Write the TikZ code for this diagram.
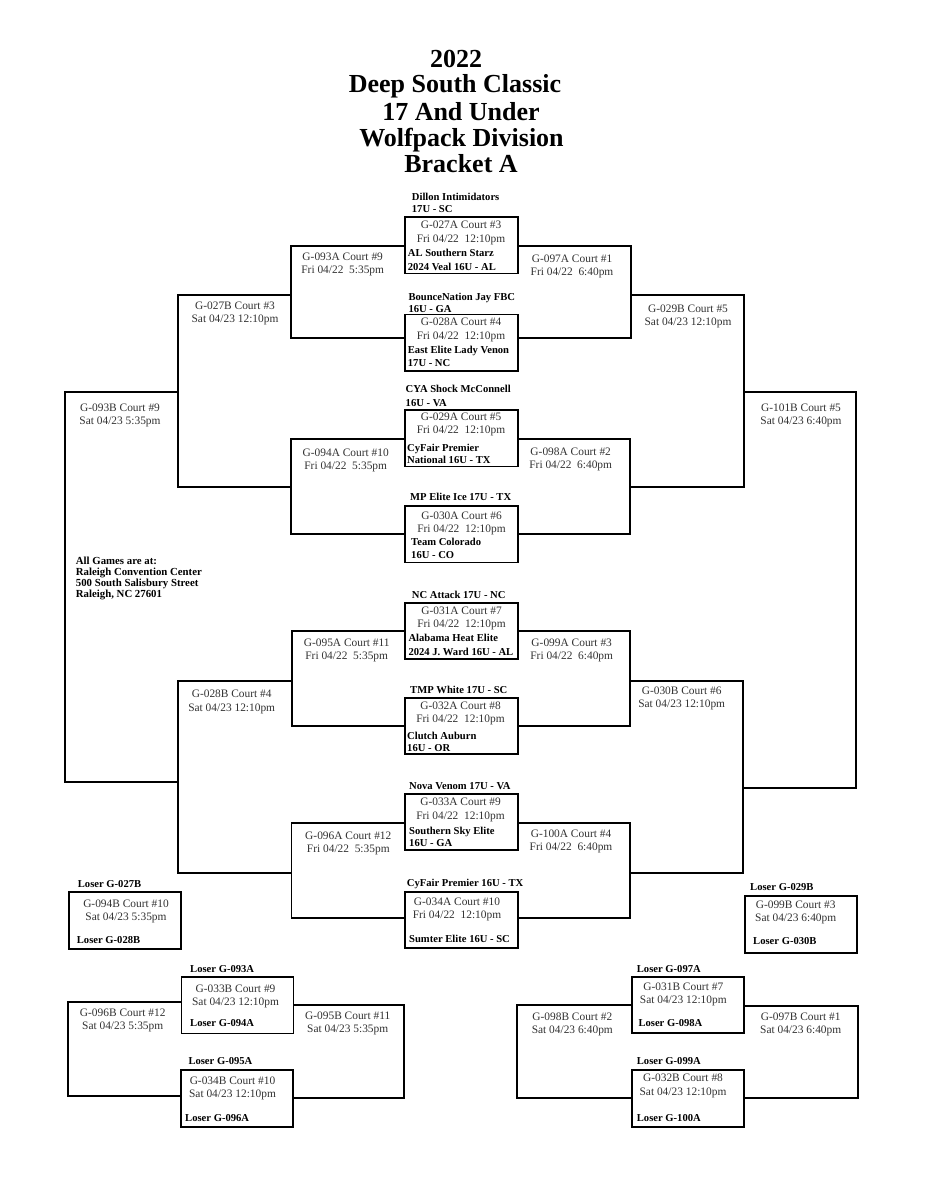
\documentclass[tikz,border=0pt]{standalone}
\usepackage{fontspec}
\setmainfont{Liberation Serif}
\definecolor{txtg}{RGB}{50,50,50}
\tikzset{
  bl/.style={line width=1.8pt, line join=miter},
  gbox/.style={draw, line width=1.8pt, anchor=north west, inner sep=0pt, minimum width=113pt, minimum height=56.5pt},
  reg/.style={font=\fontsize{11.4}{13}\selectfont, text=txtg, inner sep=0pt, anchor=mid},
  tm/.style={font=\fontsize{10.6}{12}\selectfont\bfseries, inner sep=0pt, anchor=mid west},
  adr/.style={font=\fontsize{10.8}{11}\selectfont\bfseries, inner sep=0pt, anchor=mid west},
  ttl/.style={font=\fontsize{26}{27}\selectfont\bfseries, inner sep=0pt, anchor=mid},
}
\newcommand\twolab[5]{%
  \node[reg] (#1a) at (#2,#3) {#4};
  \node[reg] (#1b) at (#2,#3+13.4) {#5};}
\begin{document}
\begin{tikzpicture}[x=1pt,y=-1pt]
\fill[white] (0,0) rectangle (948,1200);
\path[use as bounding box] (0,0) rectangle (948,1200);

% ---------- title ----------
\node[ttl] (t1) at (456,65) {2022};
\node[ttl] (t2) at (455,90.5) {Deep South Classic};
\node[ttl] (t3) at (461,118) {17 And Under};
\node[ttl] (t4) at (461.5,144.5) {Wolfpack Division};
\node[ttl] (t5) at (461,170) {Bracket A};

% ---------- round 1 boxes ----------
\node[gbox] (g027a) at (404,216) {};
\node[gbox] (g028a) at (404,313.5) {};
\node[gbox] (g029a) at (404,409) {};
\node[gbox] (g030a) at (404,505) {};
\node[gbox] (g031a) at (404,601.7) {};
\node[gbox] (g032a) at (404,696.7) {};
\node[gbox] (g033a) at (404,792.7) {};
\node[gbox] (g034a) at (404,890.7) {};

% round 1 texts
\node[tm] (n1a) at (411.7,198) {Dillon Intimidators};
\node[tm] (n1b) at (411.7,210) {17U - SC};
\twolab{i1}{461}{226.7}{G-027A Court \#3}{Fri 04/22~~12:10pm}
\node[tm] (n1c) at (407.7,254) {AL Southern Starz};
\node[tm] (n1d) at (407.7,267.7) {2024 Veal 16U - AL};

\node[tm] (n2a) at (408.3,297.7) {BounceNation Jay FBC};
\node[tm] (n2b) at (408.3,310.3) {16U - GA};
\twolab{i2}{461}{323.3}{G-028A Court \#4}{Fri 04/22~~12:10pm}
\node[tm] (n2c) at (407.7,351) {East Elite Lady Venon};
\node[tm] (n2d) at (407.7,363.7) {17U - NC};

\node[tm] (n3a) at (405.5,390.3) {CYA Shock McConnell};
\node[tm] (n3b) at (405.5,403.7) {16U - VA};
\twolab{i3}{461}{418}{G-029A Court \#5}{Fri 04/22~~12:10pm}
\node[tm] (n3c) at (407,448.7) {CyFair Premier};
\node[tm] (n3d) at (407,461) {National 16U - TX};

\node[tm] (n4a) at (410,497.7) {MP Elite Ice 17U - TX};
\twolab{i4}{461.5}{516.7}{G-030A Court \#6}{Fri 04/22~~12:10pm}
\node[tm] (n4c) at (411,543.3) {Team Colorado};
\node[tm] (n4d) at (411,556.3) {16U - CO};

\node[tm] (n5a) at (411.7,596) {NC Attack 17U - NC};
\twolab{i5}{461.5}{611.7}{G-031A Court \#7}{Fri 04/22~~12:10pm}
\node[tm] (n5c) at (408.3,639.3) {Alabama Heat Elite};
\node[tm] (n5d) at (408.3,652.7) {2024 J. Ward 16U - AL};

\node[tm] (n6a) at (410,691) {TMP White 17U - SC};
\twolab{i6}{460.5}{707}{G-032A Court \#8}{Fri 04/22~~12:10pm}
\node[tm] (n6c) at (407,736.7) {Clutch Auburn};
\node[tm] (n6d) at (407,749.3) {16U - OR};

\node[tm] (n7a) at (409,786.7) {Nova Venom 17U - VA};
\twolab{i7}{460.5}{803.3}{G-033A Court \#9}{Fri 04/22~~12:10pm}
\node[tm] (n7c) at (409,832) {Southern Sky Elite};
\node[tm] (n7d) at (409,844.3) {16U - GA};

\node[tm] (n8a) at (406.7,884.3) {CyFair Premier 16U - TX};
\twolab{i8}{457}{902.7}{G-034A Court \#10}{Fri 04/22~~12:10pm}
\node[tm] (n8c) at (409,940.3) {Sumter Elite 16U - SC};

% ---------- bracket coordinates ----------
\coordinate (c1t) at (291,245.7); \coordinate (c1b) at (291,338.3);
\coordinate (d1t) at (631,245.7); \coordinate (d1b) at (631,338.3);
\coordinate (c2t) at (291,439.3); \coordinate (c2b) at (291,534);
\coordinate (d2t) at (630,439.3); \coordinate (d2b) at (630,534);
\coordinate (c3t) at (292,630.7); \coordinate (c3b) at (292,725.7);
\coordinate (d3t) at (630,630.7); \coordinate (d3b) at (630,725.7);
\coordinate (c4t) at (291.5,822.7); \coordinate (c4b) at (291.5,918.3);
\coordinate (d4t) at (630,822.7); \coordinate (d4b) at (630,918.3);
\coordinate (e1t) at (178,295); \coordinate (e1b) at (178,487);
\coordinate (e2t) at (178,681); \coordinate (e2b) at (178,873);
\coordinate (f1t) at (744,295); \coordinate (f1b) at (744,487);
\coordinate (f2t) at (743,681); \coordinate (f2b) at (743,873);
\coordinate (h1t) at (65,392); \coordinate (h1b) at (65,782);
\coordinate (k1t) at (856,392); \coordinate (k1b) at (856,788);

% round 1 -> round 2
\draw[bl] (g027a.west |- c1t) -- (c1t) -- (c1b) -- (g028a.west |- c1b);
\draw[bl] (g027a.east |- d1t) -- (d1t) -- (d1b) -- (g028a.east |- d1b);
\draw[bl] (g029a.west |- c2t) -- (c2t) -- (c2b) -- (g030a.west |- c2b);
\draw[bl] (g029a.east |- d2t) -- (d2t) -- (d2b) -- (g030a.east |- d2b);
\draw[bl] (g031a.west |- c3t) -- (c3t) -- (c3b) -- (g032a.west |- c3b);
\draw[bl] (g031a.east |- d3t) -- (d3t) -- (d3b) -- (g032a.east |- d3b);
\draw[bl] (g033a.west |- c4t) -- (c4t) -- (c4b) -- (g034a.west |- c4b);
\draw[bl] (g033a.east |- d4t) -- (d4t) -- (d4b) -- (g034a.east |- d4b);
% round 2 -> round 3
\draw[bl] (c1t |- e1t) -- (e1t) -- (e1b) -- (c2t |- e1b);
\draw[bl] (d1t |- f1t) -- (f1t) -- (f1b) -- (d2t |- f1b);
\draw[bl] (c3t |- e2t) -- (e2t) -- (e2b) -- (c4t |- e2b);
\draw[bl] (d3t |- f2t) -- (f2t) -- (f2b) -- (d4t |- f2b);
% round 3 -> round 4
\draw[bl] (e1t |- h1t) -- (h1t) -- (h1b) -- (e2t |- h1b);
\draw[bl] (f1t |- k1t) -- (k1t) -- (k1b) -- (f2t |- k1b);

% round 2 labels
\twolab{r2a}{342.7}{257.7}{G-093A Court \#9}{Fri 04/22~~5:35pm}
\twolab{r2b}{572}{260}{G-097A Court \#1}{Fri 04/22~~6:40pm}
\twolab{r2c}{345.7}{454}{G-094A Court \#10}{Fri 04/22~~5:35pm}
\twolab{r2d}{570.7}{452.7}{G-098A Court \#2}{Fri 04/22~~6:40pm}
\twolab{r2e}{346.7}{643.7}{G-095A Court \#11}{Fri 04/22~~5:35pm}
\twolab{r2f}{571.7}{644}{G-099A Court \#3}{Fri 04/22~~6:40pm}
\twolab{r2g}{348.3}{836.7}{G-096A Court \#12}{Fri 04/22~~5:35pm}
\twolab{r2h}{571}{835}{G-100A Court \#4}{Fri 04/22~~6:40pm}
% round 3 labels
\twolab{r3a}{235}{307}{G-027B Court \#3}{Sat 04/23 12:10pm}
\twolab{r3b}{688}{310}{G-029B Court \#5}{Sat 04/23 12:10pm}
\twolab{r3c}{231.7}{695.3}{G-028B Court \#4}{Sat 04/23 12:10pm}
\twolab{r3d}{681.7}{691.7}{G-030B Court \#6}{Sat 04/23 12:10pm}
% round 4 labels
\twolab{r4a}{120}{408.7}{G-093B Court \#9}{Sat 04/23 5:35pm}
\twolab{r4b}{801}{409}{G-101B Court \#5}{Sat 04/23 6:40pm}

% address
\node[adr] (ad1) at (75.7,562) {All Games are at:};
\node[adr] (ad2) at (75.7,573.3) {Raleigh Convention Center};
\node[adr] (ad3) at (75.7,584.3) {500 South Salisbury Street};
\node[adr] (ad4) at (75.7,595) {Raleigh, NC 27601};

% ---------- consolation ----------
\node[gbox, minimum width=112.3pt, minimum height=57pt] (g094b) at (67.7,890.7) {};
\node[tm] (l1a) at (77.7,885) {Loser G-027B};
\twolab{l1}{126}{905}{G-094B Court \#10}{Sat 04/23 5:35pm}
\node[tm] (l1c) at (76.7,941) {Loser G-028B};

\node[gbox, minimum width=111.7pt, minimum height=56.7pt] (g099b) at (744.3,895) {};
\node[tm] (l2a) at (750,888.3) {Loser G-029B};
\twolab{l2}{795.7}{906}{G-099B Court \#3}{Sat 04/23 6:40pm}
\node[tm] (l2c) at (753,942) {Loser G-030B};

\node[gbox, minimum width=112pt, minimum height=56.5pt] (g033b) at (180.5,976) {};
\node[tm] (l3a) at (190,970.3) {Loser G-093A};
\twolab{l3}{235.5}{990}{G-033B Court \#9}{Sat 04/23 12:10pm}
\node[tm] (l3c) at (190,1024.3) {Loser G-094A};

\node[gbox, minimum width=112pt, minimum height=56.7pt] (g034b) at (180,1069.3) {};
\node[tm] (l4a) at (188.3,1062) {Loser G-095A};
\twolab{l4}{232.5}{1081.7}{G-034B Court \#10}{Sat 04/23 12:10pm}
\node[tm] (l4c) at (185,1118.7) {Loser G-096A};

\node[gbox, minimum width=112pt, minimum height=55.7pt] (g031b) at (630.7,976) {};
\node[tm] (l5a) at (636.7,970.3) {Loser G-097A};
\twolab{l5}{683.3}{987.7}{G-031B Court \#7}{Sat 04/23 12:10pm}
\node[tm] (l5c) at (638.3,1024.3) {Loser G-098A};

\node[gbox, minimum width=112pt, minimum height=56.7pt] (g032b) at (630.7,1069.3) {};
\node[tm] (l6a) at (636.7,1062) {Loser G-099A};
\twolab{l6}{683}{1079.3}{G-032B Court \#8}{Sat 04/23 12:10pm}
\node[tm] (l6c) at (636.7,1118.7) {Loser G-100A};

\coordinate (p1) at (67.7,1002.3); \coordinate (p2) at (67.7,1095.7);
\coordinate (q1) at (404.3,1005); \coordinate (q2) at (404.3,1098.3);
\coordinate (r1) at (517.3,1005); \coordinate (r2) at (517.3,1098.3);
\coordinate (s1) at (857.7,1005.7); \coordinate (s2) at (857.7,1098.3);
\draw[bl] (g033b.west |- p1) -- (p1) -- (p2) -- (g034b.west |- p2);
\draw[bl] (g033b.east |- q1) -- (q1) -- (q2) -- (g034b.east |- q2);
\draw[bl] (g031b.west |- r1) -- (r1) -- (r2) -- (g032b.west |- r2);
\draw[bl] (g031b.east |- s1) -- (s1) -- (s2) -- (g032b.east |- s2);

\twolab{c1}{122.7}{1013.7}{G-096B Court \#12}{Sat 04/23 5:35pm}
\twolab{c2}{347.7}{1017}{G-095B Court \#11}{Sat 04/23 5:35pm}
\twolab{c3}{572.3}{1017.7}{G-098B Court \#2}{Sat 04/23 6:40pm}
\twolab{c4}{800.7}{1017.7}{G-097B Court \#1}{Sat 04/23 6:40pm}
\end{tikzpicture}
\end{document}
